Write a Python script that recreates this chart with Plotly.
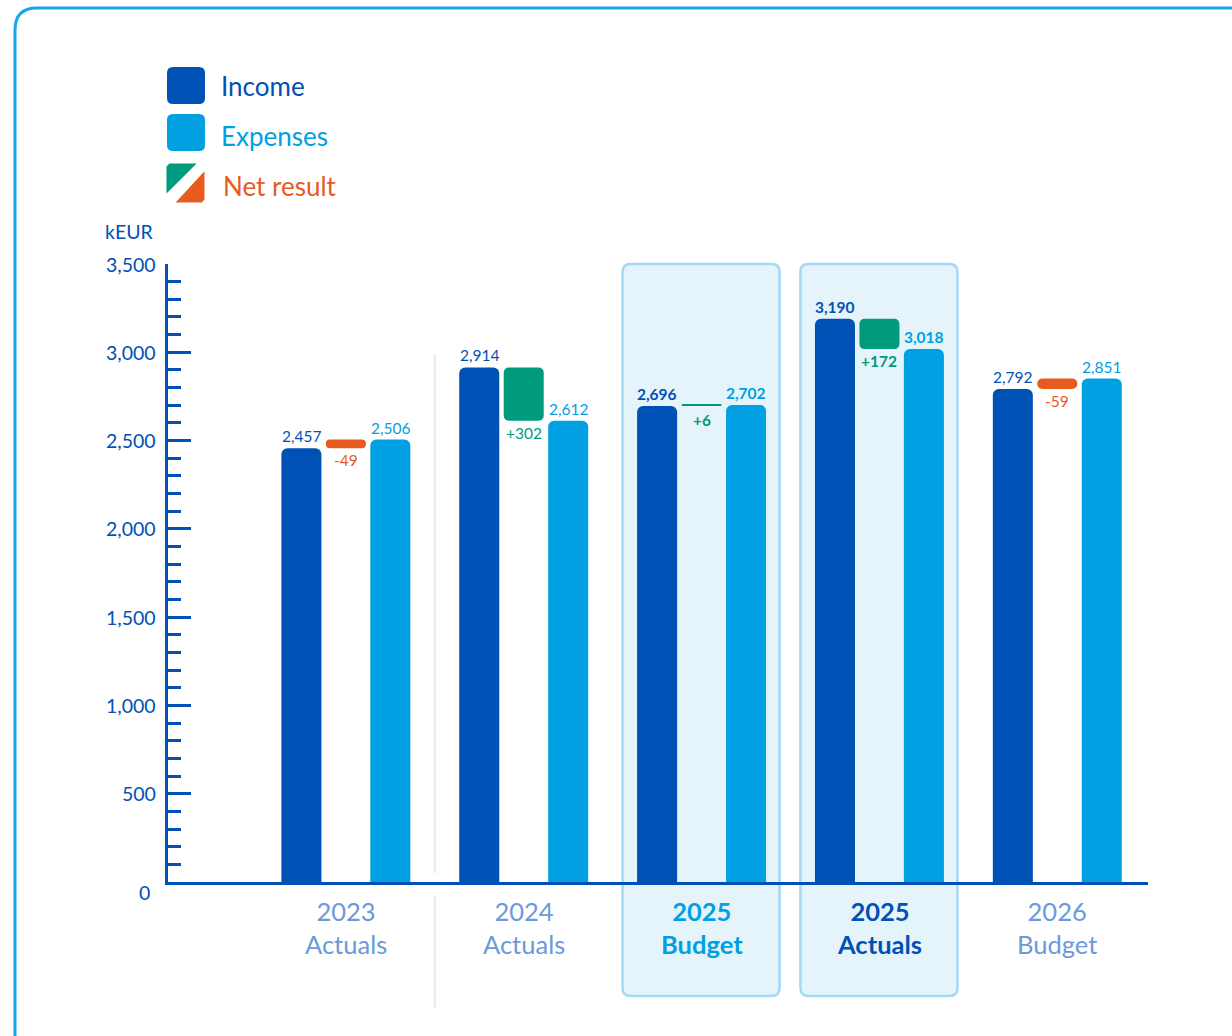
import plotly.graph_objects as go

# ---------------- data ----------------
periods = ["2023", "2024", "2025", "2025", "2026"]
period_types = ["Actuals", "Actuals", "Budget", "Actuals", "Budget"]
income = [2457, 2914, 2696, 3190, 2792]
expenses = [2506, 2612, 2702, 3018, 2851]
net_result = [-49, 302, 6, 172, -59]
highlighted = [False, False, True, True, False]
y_tick_values = [0, 500, 1000, 1500, 2000, 2500, 3000, 3500]
y_unit = "kEUR"

# ---------------- style ----------------
FONT = "Lato"
C_INC = "#0051b6"
C_EXP = "#00a0e2"
C_POS = "#009a7d"
C_NEG = "#e85b1f"
C_AXIS = "#0050b5"
C_XLAB = "#6a9ad9"
W, H = 1232, 1036
ML, MR, MT, MB = 168, 84, 264, 154
PW, PH = W - ML - MR, H - MT - MB
X0, X1 = -1.0, 4.51
BAR_W = 0.225
OFF = 0.25


def px_x(x):
    return (x - ML) / PW


def px_y(y):
    return 1 - (y - MT) / PH


def dx_to_px(v):
    return ML + (v - X0) / (X1 - X0) * PW


def rrect(x0, y0, x1, y1, r):
    """rounded rectangle path from pixel coords -> paper coords"""
    pts = [
        ("M", [(x0 + r, y0)]),
        ("L", [(x1 - r, y0)]),
        ("Q", [(x1, y0), (x1, y0 + r)]),
        ("L", [(x1, y1 - r)]),
        ("Q", [(x1, y1), (x1 - r, y1)]),
        ("L", [(x0 + r, y1)]),
        ("Q", [(x0, y1), (x0, y1 - r)]),
        ("L", [(x0, y0 + r)]),
        ("Q", [(x0, y0), (x0 + r, y0)]),
    ]
    s = ""
    for cmd, ps in pts:
        s += cmd + " ".join(f"{px_x(a):.5f},{px_y(b):.5f}" for a, b in ps) + " "
    return s + "Z"


def poly(points):
    return "M" + " L".join(f"{px_x(a):.5f},{px_y(b):.5f}" for a, b in points) + " Z"


n = len(income)
idx = list(range(n))

fig = go.Figure()
fig.add_trace(go.Bar(
    x=[i - OFF for i in idx], y=income, width=BAR_W,
    marker=dict(color=C_INC, cornerradius=6, line=dict(width=0)),
    name="Income", hoverinfo="skip"))
fig.add_trace(go.Bar(
    x=[i + OFF for i in idx], y=expenses, width=BAR_W,
    marker=dict(color=C_EXP, cornerradius=6, line=dict(width=0)),
    name="Expenses", hoverinfo="skip"))
fig.add_trace(go.Bar(
    x=idx,
    base=[min(a, b) for a, b in zip(income, expenses)],
    y=[abs(a - b) for a, b in zip(income, expenses)],
    width=BAR_W,
    marker=dict(color=[C_POS if v >= 0 else C_NEG for v in net_result],
                cornerradius=5, line=dict(width=0)),
    name="Net result", hoverinfo="skip"))

shapes = []
annotations = []

# outer card border
shapes.append(dict(type="path", xref="paper", yref="paper",
                   path=rrect(15, 8, 1262, 1060, 22),
                   line=dict(color="#17a6e8", width=3), fillcolor="rgba(0,0,0,0)",
                   layer="below"))

# highlighted period boxes
for i in idx:
    if highlighted[i]:
        c = dx_to_px(i)
        shapes.append(dict(type="path", xref="paper", yref="paper",
                           path=rrect(c - 79, 264, c + 78, 996, 8),
                           line=dict(color="#a3d9f5", width=2.5),
                           fillcolor="#e5f4fb", layer="below"))

# separator between 2023 and 2024
sx = px_x(dx_to_px(0.5))
shapes.append(dict(type="line", xref="paper", yref="paper", x0=sx, x1=sx,
                   y0=px_y(354), y1=px_y(873), line=dict(color="#e4ebf5", width=2),
                   layer="below"))
shapes.append(dict(type="line", xref="paper", yref="paper", x0=sx, x1=sx,
                   y0=px_y(896), y1=px_y(1008), line=dict(color="#e4ebf5", width=2),
                   layer="below"))

# legend icons
shapes.append(dict(type="path", xref="paper", yref="paper",
                   path=rrect(167, 67, 205, 104, 6), fillcolor=C_INC, line=dict(width=0)))
shapes.append(dict(type="path", xref="paper", yref="paper",
                   path=rrect(167, 114, 205, 151, 6), fillcolor=C_EXP, line=dict(width=0)))
shapes.append(dict(type="path", xref="paper", yref="paper",
                   path=poly([(170, 165), (193, 165), (168, 190), (168, 167)]),
                   fillcolor=C_POS, line=dict(color=C_POS, width=3)))
shapes.append(dict(type="path", xref="paper", yref="paper",
                   path=poly([(203, 175), (203, 199), (201, 201), (179, 201)]),
                   fillcolor=C_NEG, line=dict(color=C_NEG, width=3)))

leg = [("Income", C_INC, 86, 219), ("Expenses", C_EXP, 136, 219), ("Net result", C_NEG, 186, 221)]
for t, c, y, x in leg:
    annotations.append(dict(xref="paper", yref="paper", x=px_x(x), y=px_y(y),
                            xanchor="left", yanchor="middle", showarrow=False,
                            text=t, font=dict(family=FONT, size=26, color=c)))

# unit label
annotations.append(dict(xref="paper", yref="paper", x=px_x(156), y=px_y(231),
                        xanchor="right", yanchor="middle", showarrow=False,
                        text=y_unit, font=dict(family=FONT, size=19.5, color=C_AXIS)))

# y tick labels
for v in y_tick_values:
    annotations.append(dict(xref="paper", yref="y", x=px_x(158 if v else 152), y=v,
                            xanchor="right", yanchor="middle", showarrow=False,
                            yshift=0 if v else -10,
                            text=f"{v:,}", font=dict(family=FONT, size=19.5, color=C_AXIS)))

# value labels
for i in idx:
    bold = highlighted[i]
    wt = "bold" if bold else "normal"
    annotations.append(dict(x=i - OFF, y=income[i], xanchor="center", yanchor="bottom",
                            yshift=1, showarrow=False, text=f"{income[i]:,}",
                            font=dict(family=FONT, size=15.5, color=C_INC, weight=wt)))
    annotations.append(dict(x=i + OFF, y=expenses[i], xanchor="center", yanchor="bottom",
                            yshift=1, showarrow=False, text=f"{expenses[i]:,}",
                            font=dict(family=FONT, size=15.5, color=C_EXP, weight=wt)))
    nv = net_result[i]
    annotations.append(dict(x=i, y=min(income[i], expenses[i]), xanchor="center",
                            yanchor="top", yshift=-1 if abs(nv) > 20 else -3, showarrow=False,
                            text=(f"+{nv:,}" if nv >= 0 else f"{nv:,}"),
                            font=dict(family=FONT, size=15.5,
                                      color=C_POS if nv >= 0 else C_NEG, weight=wt)))

# x category labels
for i in idx:
    if highlighted[i]:
        col = C_EXP if period_types[i] == "Budget" else C_INC
        wt = "bold"
    else:
        col = C_XLAB
        wt = "normal"
    annotations.append(dict(x=i, xref="x", yref="paper", y=px_y(927), xanchor="center",
                            yanchor="middle", showarrow=False,
                            text=f"{periods[i]}<br>{period_types[i]}",
                            font=dict(family=FONT, size=25.5, color=col, weight=wt)))

fig.update_layout(
    width=W, height=H,
    margin=dict(l=ML, r=MR, t=MT, b=MB, pad=0),
    paper_bgcolor="white", plot_bgcolor="rgba(0,0,0,0)",
    barmode="overlay", showlegend=False,
    shapes=shapes, annotations=annotations,
    xaxis=dict(range=[X0, X1], showgrid=False, zeroline=False, showticklabels=False,
               ticks="", showline=True, linecolor=C_AXIS, linewidth=3, fixedrange=True),
    yaxis=dict(range=[0, 3500], showgrid=False, zeroline=False, showticklabels=False,
               showline=True, linecolor=C_AXIS, linewidth=2.5,
               ticks="inside", ticklen=23, tickwidth=2.5, tickcolor=C_AXIS,
               tickmode="array", tickvals=y_tick_values,
               minor=dict(ticks="inside", ticklen=13, tickwidth=2.5, tickcolor=C_AXIS,
                          dtick=100, showgrid=False),
               fixedrange=True),
)

fig.write_html("out.html")
